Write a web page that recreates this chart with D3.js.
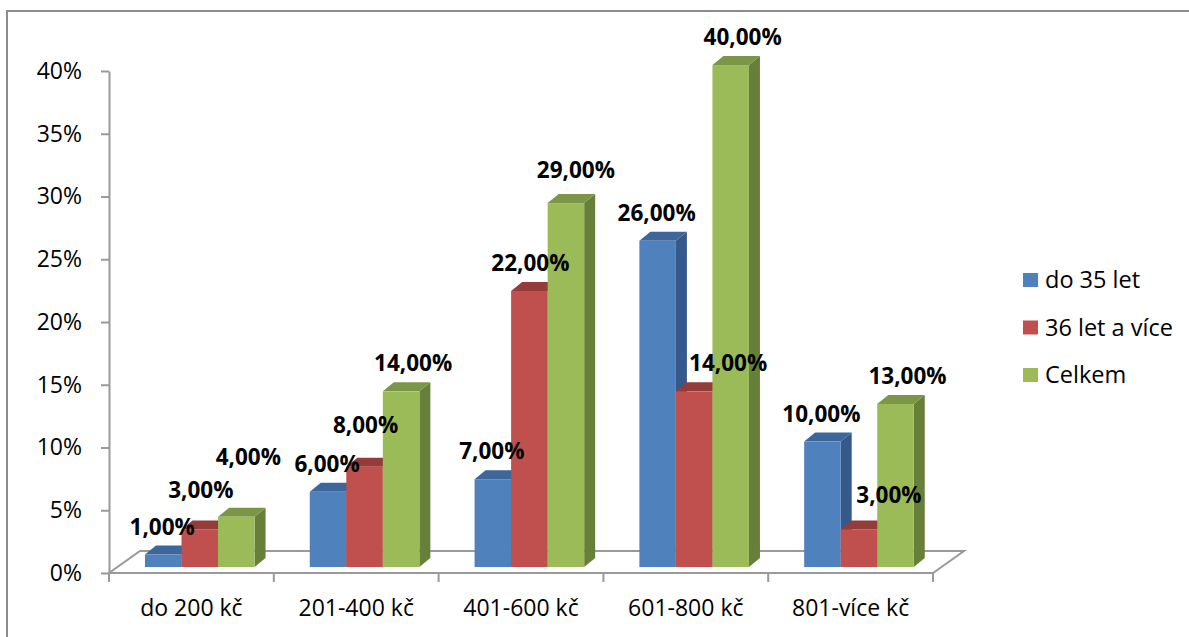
<!DOCTYPE html>
<html>
<head>
<meta charset="utf-8">
<script src="https://cdn.jsdelivr.net/npm/d3@7"></script>
<style>
  html, body { margin: 0; padding: 0; background: #fff; }
  svg { display: block; }
  text { font-family: "Open Sans", "Noto Sans", sans-serif; fill: #000; }
</style>
</head>
<body>
<svg id="chart" width="1189" height="637"></svg>
<script>
// Price bands (x axis)
const categories = ["do 200 kč", "201-400 kč", "401-600 kč", "601-800 kč", "801-více kč"];
// Series names (legend)
const seriesNames = ["do 35 let", "36 let a více", "Celkem"];
// Percentages per price band
const do35let = [1, 6, 7, 26, 10];
const od36let = [3, 8, 22, 14, 3];
const celkem = [4, 14, 29, 40, 13];
// Value axis ticks
const yTicks = [0, 5, 10, 15, 20, 25, 30, 35, 40];

const seriesValues = [do35let, od36let, celkem];

// Face colours: front, top, side
const palette = [
  { front: "#4f81bd", top: "#3d669a", side: "#35598a" },
  { front: "#c0504d", top: "#943c3a", side: "#8a3634" },
  { front: "#9bbb59", top: "#7b9646", side: "#66803a" }
];

const svg = d3.select("#chart");

// Plot geometry
const floorLeft = 109, floorRight = 933, floorY = 573;
const depth = { dx: 31, dy: -22 };        // floor depth projection
const barPlane = 0.27;                      // bars sit this far into the floor depth
const barDepth = { dx: 11, dy: -9 };        // depth of each bar
const planeDx = depth.dx * barPlane, planeDy = depth.dy * barPlane;

const x = d3.scaleBand().domain(categories).range([floorLeft, floorRight]).padding(0);
const y = d3.scaleLinear().domain([0, 40]).range([floorY, 71]);
const groupFrac = 0.665;
const sub = d3.scaleBand().domain(d3.range(seriesNames.length))
  .range([0, x.bandwidth() * groupFrac]).padding(0);

// Outer frame
svg.append("path")
  .attr("d", "M7,637V11H1189")
  .attr("fill", "none").attr("stroke", "#8c8c8c").attr("stroke-width", 2);

// Floor
const axisColor = "#9a9a9a";
svg.append("path")
  .attr("d", `M${floorLeft},${floorY}L${floorRight},${floorY}L${floorRight + depth.dx},${floorY + depth.dy}` +
             `L${floorLeft + depth.dx},${floorY + depth.dy}Z`)
  .attr("fill", "none").attr("stroke", axisColor).attr("stroke-width", 2);

// Value axis
const yAxis = d3.axisLeft(y).tickValues(yTicks).tickFormat(d => d + "%")
  .tickSize(8).tickSizeOuter(0).tickPadding(19);
const yg = svg.append("g").attr("transform", `translate(${floorLeft},0)`).call(yAxis);
yg.select(".domain").attr("stroke", axisColor).attr("stroke-width", 2);
yg.selectAll(".tick line").attr("stroke", axisColor).attr("stroke-width", 2);
yg.selectAll(".tick text").attr("font-size", 23).attr("font-family", "Open Sans").attr("fill", "#000");

// Category axis: boundary ticks + centred labels
const bounds = categories.map(c => x(c)).concat([floorRight]);
svg.append("g").selectAll("line").data(bounds).join("line")
  .attr("x1", d => d).attr("x2", d => d)
  .attr("y1", floorY).attr("y2", floorY + 9)
  .attr("stroke", axisColor).attr("stroke-width", 2);
const xAxis = d3.axisBottom(x).tickSize(0).tickPadding(27);
const xg = svg.append("g").attr("transform", `translate(0,${floorY})`).call(xAxis);
xg.select(".domain").remove();
xg.selectAll(".tick text").attr("font-size", 23).attr("font-family", "Open Sans").attr("fill", "#000");

// Bars
const bars = [];
categories.forEach((c, ci) => {
  seriesValues.forEach((vals, si) => {
    const v = vals[ci];
    const x0 = x(c) + (x.bandwidth() * (1 - groupFrac)) / 2 + sub(si) + planeDx;
    const w = sub.bandwidth();
    const yb = floorY + planeDy;
    const yt = y(v) + planeDy;
    bars.push({ c, ci, si, v, x0, w, yb, yt });
  });
});

const barG = svg.append("g");
bars.forEach(b => {
  const col = palette[b.si];
  const g = barG.append("g");
  const { x0, w, yb, yt } = b;
  const bx = barDepth.dx, by = barDepth.dy;
  // side face
  g.append("path")
    .attr("d", `M${x0 + w},${yb}L${x0 + w + bx},${yb + by}L${x0 + w + bx},${yt + by}L${x0 + w},${yt}Z`)
    .attr("fill", col.side);
  // top face
  g.append("path")
    .attr("d", `M${x0},${yt}L${x0 + bx},${yt + by}L${x0 + w + bx},${yt + by}L${x0 + w},${yt}Z`)
    .attr("fill", col.top);
  // front face
  g.append("rect")
    .attr("x", x0).attr("y", yt).attr("width", w).attr("height", yb - yt)
    .attr("fill", col.front);
});

// Data labels: default offset per series, with extra nudges where labels would collide
const labelDx = [-1, 1, 12];
const labelDy = -20;
const labelNudge = {
  "0|1": [0, -11],
  "0|2": [0, -32],
  "1|1": [0, -14],
  "2|2": [-2, -5],
  "3|1": [33, 0],
  "4|1": [29, -6]
};
const fmt = v => v.toFixed(2).replace(".", ",") + "%";
svg.append("g").selectAll("text").data(bars).join("text")
  .attr("x", d => d.x0 + d.w / 2 + labelDx[d.si] + (labelNudge[d.ci + "|" + d.si] || [0, 0])[0])
  .attr("y", d => d.yt + labelDy + (labelNudge[d.ci + "|" + d.si] || [0, 0])[1])
  .attr("text-anchor", "middle")
  .attr("font-size", 22.5).attr("font-weight", "bold")
  .text(d => fmt(d.v));

// Legend
const legend = svg.append("g").attr("transform", "translate(1023,280)");
const rows = legend.selectAll("g").data(seriesNames).join("g")
  .attr("transform", (d, i) => `translate(0,${i * 47.5})`);
rows.append("rect").attr("x", 0).attr("y", -7).attr("width", 15).attr("height", 14)
  .attr("fill", (d, i) => palette[i].front);
rows.append("text").attr("x", 22).attr("y", 0).attr("dy", "0.36em")
  .attr("font-size", 23.5).text(d => d);
</script>
</body>
</html>
